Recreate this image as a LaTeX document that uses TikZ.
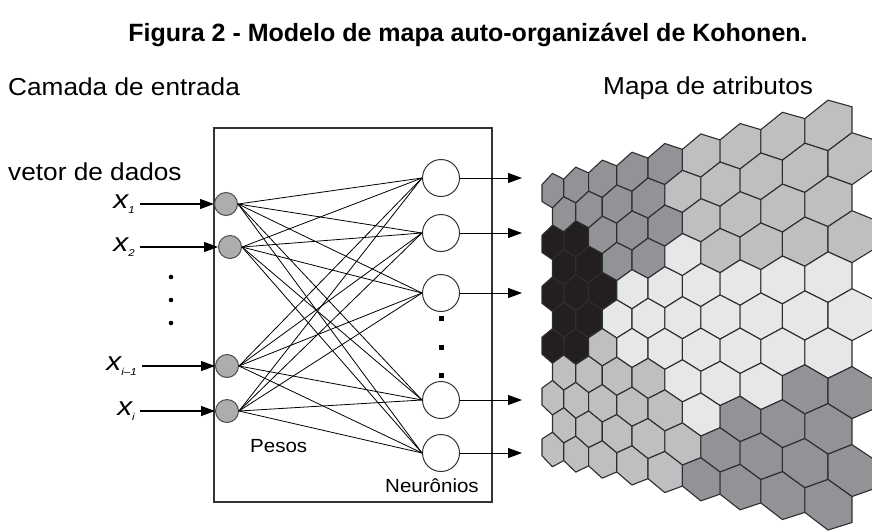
\documentclass[tikz,border=0pt]{standalone}
\usepackage{fontspec}
\setmainfont{Liberation Sans}
\usetikzlibrary{arrows.meta}

\definecolor{hexD}{HTML}{929396}
\definecolor{hexM}{HTML}{BEBFC1}
\definecolor{hexL}{HTML}{E6E7E9}
\definecolor{hexK}{HTML}{231F20}
\definecolor{inpgray}{HTML}{ADADAD}

% perspective of the feature map: column -> x, (column,row) -> y
\pgfmathdeclarefunction{mapx}{1}{\pgfmathparse{542+20.14*(#1+0.5)+1.589*(#1+0.5)^2}}
\pgfmathdeclarefunction{mapy}{2}{\pgfmathparse{(320-0.018*(mapx(#1)-555))+(#2-5)*(26+0.0437*(mapx(#1)-555))}}

\newcommand\hexcell[3]{%
  \pgfmathsetmacro\hu{#2+0.5*mod(#1,2)}
  \filldraw[hexline,fill=#3]
    ({mapx(\hu)},{mapy(\hu,#1-2/3)}) -- ({mapx(\hu+0.5)},{mapy(\hu+0.5,#1-1/3)})
    -- ({mapx(\hu+0.5)},{mapy(\hu+0.5,#1+1/3)}) -- ({mapx(\hu)},{mapy(\hu,#1+2/3)})
    -- ({mapx(\hu-0.5)},{mapy(\hu-0.5,#1+1/3)}) -- ({mapx(\hu-0.5)},{mapy(\hu-0.5,#1-1/3)}) -- cycle;}
\newcommand\inlab[1]{{\itshape x}\raisebox{-5pt}{\fontsize{10}{10}\selectfont\itshape #1}}

\tikzset{
  hexline/.style={draw=black!82, line width=1.1pt, line join=round},
  inneuron/.style={circle, draw=black!70, fill=inpgray, minimum size=23pt, inner sep=0pt, line width=1pt},
  outneuron/.style={circle, draw=black!80, fill=white, minimum size=37pt, inner sep=0pt, line width=1pt},
  link/.style={line width=0.8pt},
  flow/.style={line width=1.1pt, -{Triangle[length=14pt,width=10pt]}},
  biglbl/.style={font=\fontsize{24.5}{27}\selectfont, xscale=1.07, inner sep=0pt},
  smalllbl/.style={font=\fontsize{19}{21}\selectfont, xscale=1.08, inner sep=0pt},
  xlbl/.style={font=\fontsize{26}{28}\selectfont, xscale=1.15, inner sep=0pt, anchor=east}
}

\begin{document}
\begin{tikzpicture}[x=1pt,y=-1pt]
\useasboundingbox (0,0) rectangle (872,531);

\node[font=\bfseries\fontsize{25}{28}\selectfont, inner sep=0pt, anchor=base] (title) at (468,41) {Figura 2 - Modelo de mapa auto-organizável de Kohonen.};
\node[biglbl, anchor=base west] (camada) at (8,95) {Camada de entrada};
\node[biglbl, anchor=base west] (mapa) at (603,94) {Mapa de atributos};
\node[biglbl, anchor=base west] (vetor) at (8,180) {vetor de dados};

% box with weights
\draw[draw=black!80, line width=1.2pt] (214,128) rectangle (492,502);
\node[smalllbl, anchor=base west] (pesos) at (250,452) {Pesos};
\node[smalllbl, anchor=base west] (neur) at (385,492) {Neurônios};

% input layer
\node[inneuron] (in1) at (226,204) {};
\node[inneuron] (in2) at (230,247) {};
\node[inneuron] (in3) at (227,366) {};
\node[inneuron] (in4) at (227,411) {};
\node[xlbl] (lab1) at (135,204) {\inlab{1}};
\node[xlbl] (lab2) at (135,247) {\inlab{2}};
\node[xlbl] (lab3) at (137,366) {\inlab{i–1}};
\node[xlbl] (lab4) at (135,411) {\inlab{i}};
\foreach \i in {1,...,4}
  \draw[flow] ([xshift=5pt]lab\i.east |- in\i) -- (in\i);
\foreach \y in {277,300,323}
  \fill (171,\y) circle (2.3pt);

% output layer
\node[outneuron] (out1) at (441,178) {};
\node[outneuron] (out2) at (441,233) {};
\node[outneuron] (out3) at (441,293) {};
\node[outneuron] (out4) at (441,400) {};
\node[outneuron] (out5) at (441,453) {};
\foreach \y in {318,347,375}
  \fill (438.5,\y-2.5) rectangle (443.5,\y+2.5);
\foreach \j in {1,...,5} {
  \coordinate (end\j) at (522,0 |- out\j);
  \draw[flow, line width=0.9pt] (out\j) -- (end\j);
}

% weights
\foreach \i in {1,...,4}
  \foreach \j in {1,...,5}
    \draw[link] (in\i.east) -- (out\j.west);

% feature map
\foreach \r/\cells in {
  0/{D,D,D,D,D,M,M,M,M},
  1/{D,D,D,D,M,M,M,M,M},
  2/{K,K,D,D,D,M,M,M,M},
  3/{K,K,D,D,L,M,M,M,M},
  4/{K,K,K,L,L,L,L,L,L},
  5/{K,K,L,L,L,L,L,L,L},
  6/{K,K,M,L,L,L,L,L,L},
  7/{M,M,M,M,L,L,L,D,D},
  8/{M,M,M,M,M,L,D,D,D},
  9/{M,M,M,M,M,D,D,D,D},
  10/{M,M,M,M,M,D,D,D,D}}
  \foreach \t [count=\c from 0] in \cells
    \hexcell{\r}{\c}{hex\t};
\end{tikzpicture}
\end{document}
